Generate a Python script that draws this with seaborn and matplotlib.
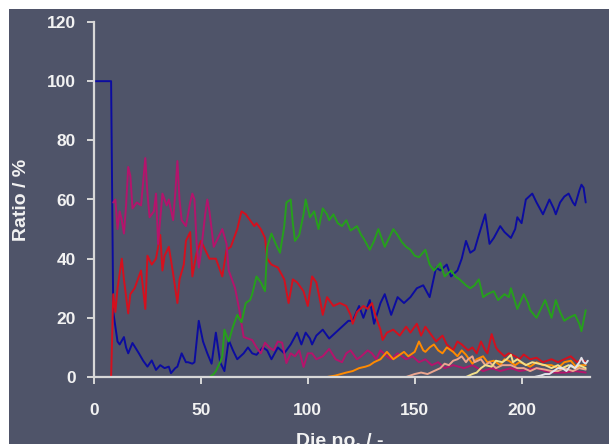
import pandas as pd
import matplotlib.pyplot as plt
from matplotlib.patches import Rectangle
import seaborn as sns

# die numbers / ratio (%), one pair of lists per series
blue_x = [0, 8, 9, 10, 11, 12, 14, 15, 16, 18, 21, 23, 25, 27, 29, 31, 33, 35, 36, 38, 39, 41, 43, 44, 46, 47,
          49, 51, 53, 55, 57, 59, 61, 63, 65, 67, 70, 72, 74, 76, 79, 81, 83, 86, 89, 92, 95, 97, 99, 101, 102,
          104, 107, 110, 113, 116, 119, 121, 124, 126, 129, 131, 134, 136, 139, 142, 145, 148, 151, 154, 157,
          160, 162, 165, 167, 170, 172, 174, 176, 178, 180, 183, 185, 187, 190, 192, 195, 197, 198, 200, 202,
          205, 207, 210, 213, 215, 216, 218, 220, 222, 224, 225, 227, 228, 229, 230]
blue_y = [100, 100, 22, 17, 12, 11, 13.5, 10, 8, 11.5, 8, 5.5, 3.5, 5.6, 2.4, 4, 3, 3.5, 1.3, 3, 3.5, 8, 5, 5, 4.5, 5,
          19, 12, 8, 4.5, 15, 5, 2, 12.5, 9, 6, 8, 10, 8, 7.5, 10, 9, 6, 10, 8, 11, 15, 11, 15, 13, 11,
          14, 16, 13, 15, 17, 19, 19, 24, 20, 26, 18, 25, 28, 21, 27, 25, 27, 30, 31, 27,
          37, 36, 38, 34, 36, 40, 46, 42, 43, 48, 55, 45, 47, 51, 49, 47, 50, 54, 52, 60,
          62, 59, 55, 60, 57, 55, 59, 61, 62, 59, 58, 63, 65, 64, 59]

red_x = [8, 9, 10, 11, 13, 14, 16, 17, 19, 21, 22, 24, 25, 27, 29, 31, 32, 33, 35, 37, 39, 40, 42, 43, 45, 46,
         48, 49, 50, 52, 54, 57, 60, 62, 64, 66, 67, 69, 71, 73, 75, 76, 78, 80, 81, 83, 86, 89, 91, 93, 95,
         98, 100, 102, 104, 106, 107, 109, 110, 112, 115, 118, 120, 121, 123, 126, 128, 130, 132, 134, 135,
         137, 140, 143, 146, 148, 151, 153, 155, 157, 160, 163, 165, 168, 170, 172, 175, 177, 179, 181, 183,
         184, 186, 188, 189, 192, 194, 197, 199, 201, 204, 207, 210, 214, 217, 220, 223, 226, 228, 230]
red_y = [0, 28, 22, 30, 40, 33, 21.5, 28, 30, 34, 36, 23, 41, 38, 40, 48, 36, 41, 44, 35, 25, 33, 38, 46, 49, 34,
         42, 44, 46, 43, 40, 40, 34, 43, 44, 48, 50, 56, 55, 53, 51, 52, 50, 47, 40, 38, 37, 33, 25, 33, 32,
         29, 24, 34, 32, 25, 21, 27, 26, 24, 25, 24, 21, 18, 22, 24, 23, 25, 20, 16, 12.5,
         15, 16, 14, 17, 15, 18, 14, 17, 15, 12, 14, 11, 9, 12, 11, 9, 10, 8, 12, 9,
         8, 14.5, 10, 9, 7, 8, 7, 6, 7.6, 6, 6.5, 5, 6, 5, 6, 7, 5, 6, 5]

magenta_x = [9, 10, 11, 12, 13, 14, 15, 16, 17, 18, 20, 22, 23, 24, 25, 26, 28, 29, 30, 32, 34, 35, 37, 38, 39,
             40, 41, 43, 45, 46, 47, 48, 49, 50, 52, 53, 54, 56, 58, 60, 62, 63, 65, 66, 68, 70, 72, 74, 76,
             78, 80, 82, 84, 86, 88, 90, 92, 94, 96, 98, 100, 102, 104, 107, 110, 113, 116, 118, 120, 123,
             125, 128, 130, 132, 134, 137, 139, 142, 146, 149, 152, 155, 158, 161, 164, 168, 173, 177, 182,
             186, 190, 195, 199, 203, 207, 211, 215, 220, 225, 230]
magenta_y = [59, 60, 50, 56, 53, 48.5, 58, 71, 68, 57, 59, 58, 66, 74, 62, 54, 56, 62, 45, 62, 58, 60, 53, 62, 73,
             60, 53, 51, 59, 62, 60, 45, 37, 42, 55, 60, 56, 44, 47, 50, 45, 36, 32, 30, 22.6, 13.5, 13, 12.5, 10,
             8, 11.6, 10, 9, 12, 11.6, 4.7, 8, 7, 9, 3.4, 8, 8, 6, 7, 9.5, 6, 5, 8, 9, 6,
             7, 9, 8, 6, 9, 7, 6, 8, 6, 7, 5, 6, 4, 5, 3, 4, 3, 4, 2,
             3, 2, 3, 2, 2.5, 3, 2, 1.5, 1.5, 2, 1.5]

green_x = [54, 56, 57, 59, 60, 61, 62, 63, 65, 67, 69, 71, 73, 74, 76, 78, 80, 81, 83, 85, 87, 89, 90, 92, 93,
           94, 96, 98, 99, 101, 103, 105, 107, 109, 110, 112, 114, 116, 118, 120, 123, 125, 126, 129, 131,
           133, 136, 138, 140, 142, 144, 146, 148, 150, 152, 155, 157, 159, 162, 164, 167, 169, 171, 174,
           176, 178, 180, 182, 184, 187, 189, 192, 194, 195, 198, 201, 203, 204, 207, 209, 211, 214, 216,
           218, 220, 222, 225, 227, 228, 230]
green_y = [0, 1, 2, 5, 7, 16, 14, 12, 17, 21, 18.5, 25, 26, 28, 34, 32, 29, 44, 48.5, 45, 42, 51, 59, 60, 52,
           46, 48, 55, 60, 54, 56, 50, 57, 55, 53, 55, 52, 51, 53, 49.5, 51, 48, 47, 43, 46,
           50, 44, 47, 50, 48, 45.6, 44, 43, 41, 40.5, 43, 38, 36, 38.5, 34, 36, 34, 33, 31,
           30, 31, 33, 27, 28, 29, 26, 28, 27, 30, 23, 28, 25, 22.6, 20, 23, 26, 20, 26,
           22, 19, 20, 21, 18, 15.5, 22.6]

orange_x = [109, 113, 118, 121, 124, 127, 129, 131, 134, 137, 140, 142, 145, 147, 150, 152, 154, 155, 157, 159,
            161, 163, 165, 168, 170, 172, 174, 177, 179, 182, 184, 187, 190, 192, 194, 197, 199, 201, 204,
            207, 210, 214, 217, 220, 223, 226, 228, 230]
orange_y = [0, 0.5, 1.5, 2, 3, 3.5, 4, 5, 6, 8.5, 6, 7, 8.5, 7, 8.5, 12, 9, 8.5, 10, 11,
            9, 8, 10, 8.5, 7, 9, 7.5, 4.5, 6, 7, 5, 5.5, 4, 6, 5.5, 4, 5, 4.5, 3.5,
            5, 4, 4, 3, 5, 5.5, 3, 4, 4]

salmon_x = [146, 150, 153, 156, 159, 162, 164, 166, 168, 170, 172, 174, 175, 177, 178, 181, 183, 185, 188, 191,
            195, 198, 201, 204, 207, 211, 214, 217, 220, 224, 227, 230]
salmon_y = [0, 1, 1.5, 1, 2, 3, 4.5, 4, 5.5, 6, 7, 5, 6, 7, 5, 6, 4, 5, 3, 4,
            4, 3, 3, 2, 3, 2.5, 2, 2, 3, 2, 3, 2.5]

yellow_x = [174, 177, 179, 181, 183, 186, 188, 191, 193, 195, 196, 198, 200, 202, 205, 208, 211, 214, 217, 219,
            222, 225, 227, 230]
yellow_y = [0, 1, 1.5, 3, 4, 3.5, 5.5, 5, 6, 7.5, 5, 6, 5, 4, 5, 4.5, 4, 3, 4, 3,
            4, 3, 4, 3]

white_x = [206, 209, 211, 213, 215, 217, 219, 221, 223, 225, 227, 228, 229, 230, 231]
white_y = [0, 0.5, 1, 1, 2, 3, 3, 2, 4, 3, 5, 6.5, 5, 4.5, 5.5]

series = {
    "blue": (blue_x, blue_y),
    "red": (red_x, red_y),
    "magenta": (magenta_x, magenta_y),
    "green": (green_x, green_y),
    "orange": (orange_x, orange_y),
    "salmon": (salmon_x, salmon_y),
    "yellow": (yellow_x, yellow_y),
    "white": (white_x, white_y),
}
colors = {
    "blue": "#0c0ca0", "red": "#d4101e", "magenta": "#b4146c", "green": "#26a01c",
    "orange": "#ff8a00", "salmon": "#eca58e", "yellow": "#f2e08a", "white": "#e2e2ea",
}

frames = []
for name, (xs, ys) in series.items():
    frames.append(pd.DataFrame({"die": xs, "ratio": ys, "series": name}))
df = pd.concat(frames, ignore_index=True)

slate = "#4f5469"
fg = "#f2f2f2"

sns.set_theme(style="ticks")
plt.rcParams["font.family"] = ["Liberation Sans", "DejaVu Sans"]

fig = plt.figure(figsize=(6.09, 4.44), dpi=100, facecolor="white")
fig.patches.append(Rectangle((9 / 609, 0), 1, 1 - 9 / 444, transform=fig.transFigure,
                             facecolor=slate, edgecolor="none", zorder=-10))
ax = fig.add_axes([94 / 609, 67 / 444, 496 / 609, 355 / 444])
ax.set_facecolor("none")

sns.lineplot(data=df, x="die", y="ratio", hue="series", palette=colors,
             estimator=None, sort=False, legend=False, linewidth=1.4, ax=ax)

ax.set_xlim(0, 232)
ax.set_ylim(0, 120)
ax.set_xticks([0, 50, 100, 150, 200])
ax.set_yticks(range(0, 121, 20))

for side in ["top", "right"]:
    ax.spines[side].set_visible(False)
for side in ["left", "bottom"]:
    ax.spines[side].set_color("#d8d8d8")
    ax.spines[side].set_linewidth(1.6)

ax.tick_params(axis="both", colors="#d8d8d8", length=5, width=1.4, labelcolor=fg, labelsize=12.5)
ax.tick_params(axis="x", pad=14)
ax.tick_params(axis="y", pad=8)
for lab in ax.get_xticklabels() + ax.get_yticklabels():
    lab.set_fontweight("bold")

# x label sits partly below the bottom edge, as in the original
ax.set_xlabel("Die no. / -", color=fg, fontsize=14, fontweight="bold")
ax.set_ylabel("Ratio / %", color=fg, fontsize=14, fontweight="bold")
ax.xaxis.set_label_coords(0.496, -0.157)
ax.yaxis.set_label_coords(-0.129, 0.5)

fig.savefig("out.png", dpi=100, facecolor=fig.get_facecolor())
